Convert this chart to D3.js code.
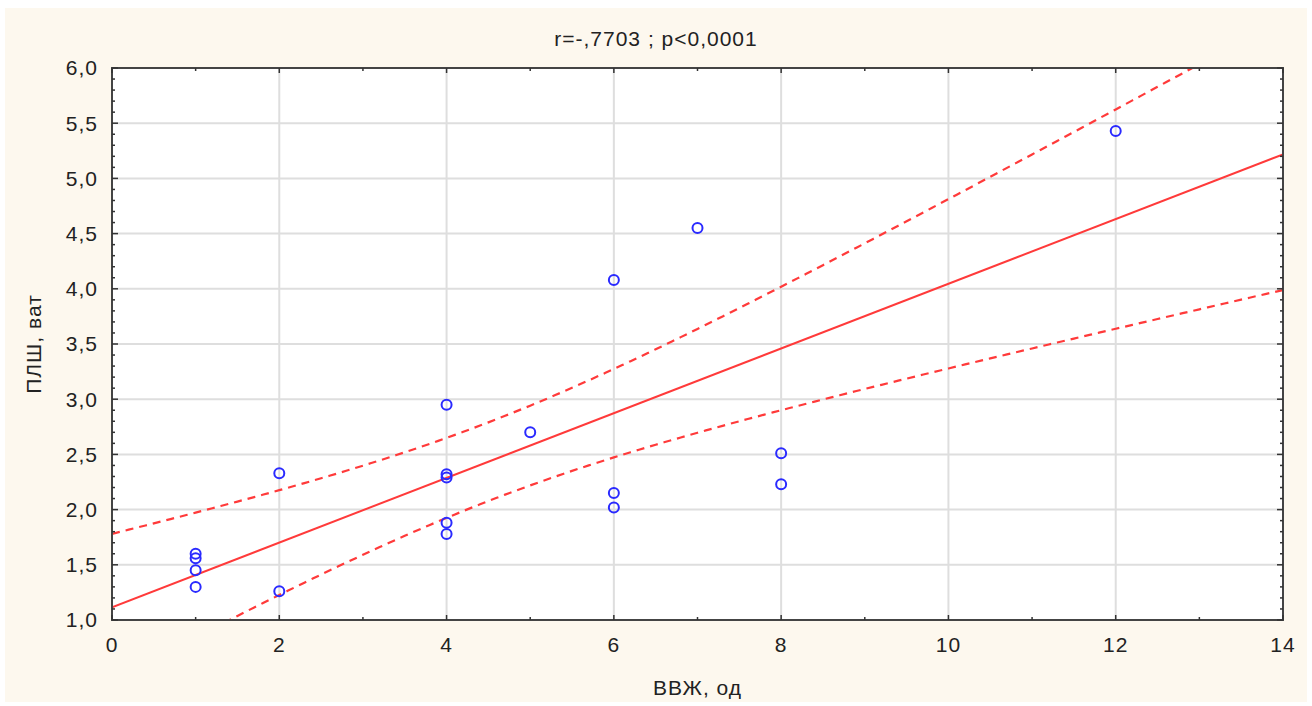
<!DOCTYPE html>
<html>
<head>
<meta charset="utf-8">
<script src="https://cdn.jsdelivr.net/npm/d3@7"></script>
<style>
  body { margin: 0; background: #fff; }
  text { font-family: "Liberation Sans", Arial, sans-serif; fill: #222; letter-spacing: 1px; }
</style>
</head>
<body>
<div id="chart"></div>
<script>
'use strict';

// observed points (ВВЖ, ПЛШ)
var xValues = [1, 1, 1, 1, 2, 2, 4, 4, 4, 4, 4, 5, 6, 6, 6, 7, 8, 8, 12];
var yValues = [1.60, 1.56, 1.45, 1.30, 1.26, 2.33, 2.95, 2.32, 2.29, 1.88, 1.78, 2.70, 4.08, 2.15, 2.02, 4.55, 2.51, 2.23, 5.43];

var xTicks = [0, 2, 4, 6, 8, 10, 12, 14];
var yTicks = [1.0, 1.5, 2.0, 2.5, 3.0, 3.5, 4.0, 4.5, 5.0, 5.5, 6.0];

var titleText = "r=-,7703 ; p<0,0001";
var xLabel = "ВВЖ, од";
var yLabel = "ПЛШ, ват";

(function() {
    var W = 1312, H = 706;
    var margin = { left: 112, right: 29, top: 68, bottom: 86 };
    var width = W - margin.left - margin.right,
        height = H - margin.top - margin.bottom;

    var svg = d3.select("#chart").append("svg")
        .attr("width", W)
        .attr("height", H);

    // cream panel
    svg.append("rect")
        .attr("x", 5).attr("y", 8)
        .attr("width", W - 10).attr("height", H - 12)
        .attr("fill", "#fdf8ee");

    var g = svg.append("g")
        .attr("transform", "translate(" + margin.left + "," + margin.top + ")");

    var x = d3.scaleLinear().domain([0, 14]).range([0, width]);
    var y = d3.scaleLinear().domain([1, 6]).range([height, 0]);

    g.append("rect")
        .attr("width", width).attr("height", height)
        .attr("fill", "#fff");

    // grid
    g.selectAll(".gx").data(xTicks.slice(1, -1)).enter().append("line")
        .attr("x1", function(d) { return x(d); }).attr("x2", function(d) { return x(d); })
        .attr("y1", 0).attr("y2", height)
        .attr("stroke", "#dedede").attr("stroke-width", 2);
    g.selectAll(".gy").data(yTicks.slice(1, -1)).enter().append("line")
        .attr("y1", function(d) { return y(d); }).attr("y2", function(d) { return y(d); })
        .attr("x1", 0).attr("x2", width)
        .attr("stroke", "#dedede").attr("stroke-width", 2);

    // regression + 95% confidence band of the mean
    var n = xValues.length;
    var mx = d3.mean(xValues), my = d3.mean(yValues);
    var sxx = d3.sum(xValues, function(v) { return (v - mx) * (v - mx); });
    var sxy = d3.sum(xValues, function(v, i) { return (v - mx) * (yValues[i] - my); });
    var b = sxy / sxx, a = my - b * mx;
    var sse = d3.sum(xValues, function(v, i) { var r = yValues[i] - (a + b * v); return r * r; });
    var s = Math.sqrt(sse / (n - 2));
    var t = 2.11;

    var grid = d3.range(0, 14.001, 0.1);
    function band(sign) {
        return grid.map(function(v) {
            var se = s * Math.sqrt(1 / n + (v - mx) * (v - mx) / sxx);
            return [v, a + b * v + sign * t * se];
        });
    }

    g.append("clipPath").attr("id", "clip")
        .append("rect").attr("width", width).attr("height", height);

    var line = d3.line()
        .x(function(d) { return x(d[0]); })
        .y(function(d) { return y(d[1]); });

    var lines = g.append("g").attr("clip-path", "url(#clip)");
    lines.append("path")
        .attr("d", line([[0, a], [14, a + b * 14]]))
        .attr("fill", "none").attr("stroke", "#ff3a3a").attr("stroke-width", 2);
    [1, -1].forEach(function(sign) {
        lines.append("path")
            .attr("d", line(band(sign)))
            .attr("fill", "none").attr("stroke", "#ff3a3a").attr("stroke-width", 2.2)
            .attr("stroke-dasharray", "8,6");
    });

    // points
    g.selectAll(".pt").data(xValues).enter().append("circle")
        .attr("cx", function(d) { return x(d); })
        .attr("cy", function(d, i) { return y(yValues[i]); })
        .attr("r", 5)
        .attr("fill", "none").attr("stroke", "#2a2aff").attr("stroke-width", 2);

    // frame
    g.append("rect")
        .attr("width", width).attr("height", height)
        .attr("fill", "none").attr("stroke", "#444").attr("stroke-width", 2);

    // ticks pointing inward, major + minor
    var tk = g.append("g").attr("stroke", "#333").attr("stroke-width", 1.5);
    d3.range(0, 15, 1).forEach(function(v) {
        var len = v % 2 === 0 ? 5 : 3;
        tk.append("line").attr("x1", x(v)).attr("x2", x(v)).attr("y1", height).attr("y2", height - len);
        tk.append("line").attr("x1", x(v)).attr("x2", x(v)).attr("y1", 0).attr("y2", len);
    });
    d3.range(10, 61, 1).forEach(function(k) {
        var v = k / 10, len = k % 5 === 0 ? 6 : 3;
        tk.append("line").attr("y1", y(v)).attr("y2", y(v)).attr("x1", 0).attr("x2", len);
        tk.append("line").attr("y1", y(v)).attr("y2", y(v)).attr("x1", width).attr("x2", width - len);
    });

    var fmt = function(d) { return d3.format(".1f")(d).replace(".", ","); };

    g.selectAll(".yl").data(yTicks).enter().append("text")
        .attr("x", -14).attr("y", function(d) { return y(d); })
        .attr("dy", "0.35em").attr("text-anchor", "end")
        .style("font-size", "21px")
        .text(fmt);

    g.selectAll(".xl").data(xTicks).enter().append("text")
        .attr("x", function(d) { return x(d); }).attr("y", height + 32)
        .attr("text-anchor", "middle")
        .style("font-size", "21px")
        .text(function(d) { return d; });

    svg.append("text")
        .attr("x", 656).attr("y", 46)
        .attr("text-anchor", "middle")
        .style("font-size", "21px")
        .text(titleText);

    svg.append("text")
        .attr("x", margin.left + width / 2).attr("y", 695)
        .attr("text-anchor", "middle")
        .style("font-size", "21px")
        .text(xLabel);

    svg.append("text")
        .attr("transform", "translate(41," + (margin.top + height / 2) + ") rotate(-90)")
        .attr("text-anchor", "middle")
        .style("font-size", "21px")
        .text(yLabel);
})();
</script>
</body>
</html>
